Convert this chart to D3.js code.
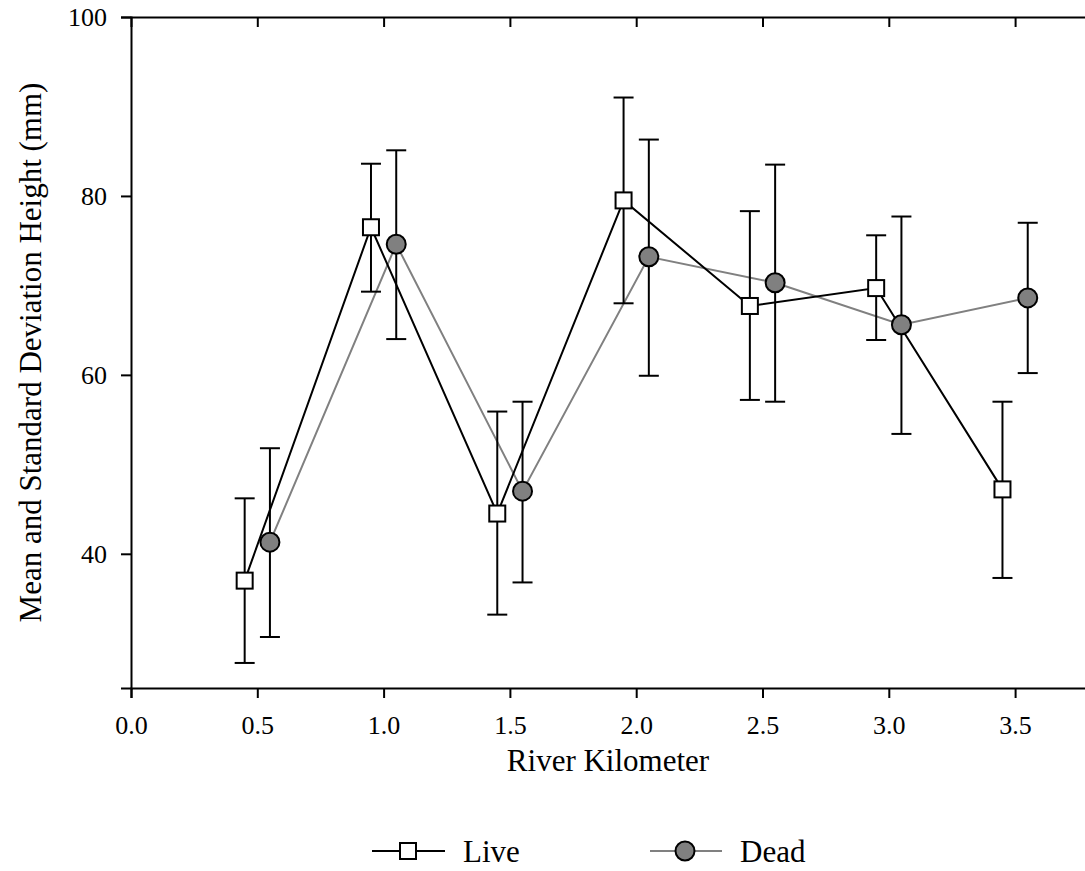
<!DOCTYPE html>
<html>
<head>
<meta charset="utf-8">
<script src="https://cdn.jsdelivr.net/npm/d3@7"></script>
<style>
  html, body { margin: 0; padding: 0; background: #fff; }
  svg { display: block; font-family: "Liberation Serif", "Times New Roman", serif; }
</style>
</head>
<body>
<svg id="chart" width="1085" height="871"></svg>
<script>
// ---- data ----
const liveX    = [0.45, 0.95, 1.45, 1.95, 2.45, 2.95, 3.45];
const liveMean = [37.0, 76.5, 44.5, 79.5, 67.7, 69.7, 47.2];
const liveHi   = [46.2, 83.6, 55.9, 91.0, 78.3, 75.6, 57.0];
const liveLo   = [27.8, 69.3, 33.2, 68.0, 57.2, 63.9, 37.3];

const deadX    = [0.55, 1.05, 1.55, 2.05, 2.55, 3.05, 3.55];
const deadMean = [41.3, 74.6, 47.0, 73.2, 70.3, 65.6, 68.6];
const deadHi   = [51.8, 85.1, 57.0, 86.3, 83.5, 77.7, 77.0];
const deadLo   = [30.7, 64.0, 36.8, 59.9, 57.0, 53.4, 60.2];

const xTicks = [0, 0.5, 1.0, 1.5, 2.0, 2.5, 3.0, 3.5];
const yTicks = [40, 60, 80, 100];
const xTitle = "River Kilometer";
const yTitle = "Mean and Standard Deviation Height (mm)";
const legendLabels = ["Live", "Dead"];

// ---- layout ----
const svg = d3.select("#chart");
const plotLeft = 131, plotTop = 17, plotBottom = 688;
const pxPerUnit = 252.6;
const x = d3.scaleLinear().domain([0, 3.8]).range([plotLeft, plotLeft + 3.8 * pxPerUnit]);
const y = d3.scaleLinear().domain([25, 100]).range([plotBottom, plotTop]);

const tickFont = 26, titleFont = 31, legendFont = 31;

// axes
const xAxis = svg.append("g").attr("transform", `translate(0,${plotBottom})`)
  .call(d3.axisBottom(x).tickValues(xTicks).tickFormat(d3.format(".1f")).tickSizeOuter(0).tickSize(10).tickPadding(18));
const xTop = svg.append("g").attr("transform", `translate(0,${plotTop})`)
  .call(d3.axisBottom(x).tickValues(xTicks.slice(1)).tickFormat("").tickSizeOuter(0).tickSize(10));
const yAxis = svg.append("g").attr("transform", `translate(${plotLeft},0)`)
  .call(d3.axisLeft(y).tickValues(yTicks).tickFormat(d3.format("d")).tickSizeOuter(0).tickSize(10).tickPadding(14));

[xAxis, xTop, yAxis].forEach(g => {
  g.selectAll(".domain").attr("stroke", "#000").attr("stroke-width", 2);
  g.selectAll(".tick line").attr("stroke", "#000").attr("stroke-width", 2);
  g.selectAll("text").attr("fill", "#000").style("font-size", tickFont + "px")
    .style("font-family", '"Liberation Serif", serif');
});
xAxis.selectAll("text").attr("dy", "0.71em");

// axis titles
svg.append("text").attr("x", 608).attr("y", 771).attr("text-anchor", "middle")
  .style("font-size", titleFont + "px").text(xTitle);
svg.append("text").attr("transform", `translate(30,${(plotTop + plotBottom) / 2}) rotate(-90)`)
  .attr("text-anchor", "middle").attr("dominant-baseline", "central")
  .style("font-size", titleFont + "px").text(yTitle);

// series
const live = liveX.map((d, i) => ({ x: d, m: liveMean[i], hi: liveHi[i], lo: liveLo[i] }));
const dead = deadX.map((d, i) => ({ x: d, m: deadMean[i], hi: deadHi[i], lo: deadLo[i] }));
const line = d3.line().x(d => x(d.x)).y(d => y(d.m));

svg.append("path").datum(dead).attr("d", line).attr("fill", "none").attr("stroke", "#808080").attr("stroke-width", 2);
svg.append("path").datum(live).attr("d", line).attr("fill", "none").attr("stroke", "#000").attr("stroke-width", 2);

const capW = 10;
function errBars(data) {
  const g = svg.append("g").attr("stroke", "#000").attr("stroke-width", 2);
  data.forEach(d => {
    g.append("line").attr("x1", x(d.x)).attr("x2", x(d.x)).attr("y1", y(d.hi)).attr("y2", y(d.lo));
    g.append("line").attr("x1", x(d.x) - capW).attr("x2", x(d.x) + capW).attr("y1", y(d.hi)).attr("y2", y(d.hi));
    g.append("line").attr("x1", x(d.x) - capW).attr("x2", x(d.x) + capW).attr("y1", y(d.lo)).attr("y2", y(d.lo));
  });
}
errBars(live);
errBars(dead);

const sq = 16, r = 9.5;
svg.append("g").selectAll("rect").data(live).join("rect")
  .attr("x", d => x(d.x) - sq / 2).attr("y", d => y(d.m) - sq / 2)
  .attr("width", sq).attr("height", sq)
  .attr("fill", "#fff").attr("stroke", "#000").attr("stroke-width", 2);
svg.append("g").selectAll("circle").data(dead).join("circle")
  .attr("cx", d => x(d.x)).attr("cy", d => y(d.m)).attr("r", r)
  .attr("fill", "#808080").attr("stroke", "#000").attr("stroke-width", 2);

// legend
const ly = 851;
const lg = svg.append("g");
lg.append("line").attr("x1", 372).attr("x2", 445).attr("y1", ly).attr("y2", ly).attr("stroke", "#000").attr("stroke-width", 2);
lg.append("rect").attr("x", 408 - sq / 2).attr("y", ly - sq / 2).attr("width", sq).attr("height", sq)
  .attr("fill", "#fff").attr("stroke", "#000").attr("stroke-width", 2);
lg.append("text").attr("x", 463).attr("y", ly).attr("dominant-baseline", "central")
  .style("font-size", legendFont + "px").text(legendLabels[0]);
lg.append("line").attr("x1", 650).attr("x2", 722).attr("y1", ly).attr("y2", ly).attr("stroke", "#808080").attr("stroke-width", 2);
lg.append("circle").attr("cx", 685).attr("cy", ly).attr("r", r)
  .attr("fill", "#808080").attr("stroke", "#000").attr("stroke-width", 2);
lg.append("text").attr("x", 740).attr("y", ly).attr("dominant-baseline", "central")
  .style("font-size", legendFont + "px").text(legendLabels[1]);
</script>
</body>
</html>
